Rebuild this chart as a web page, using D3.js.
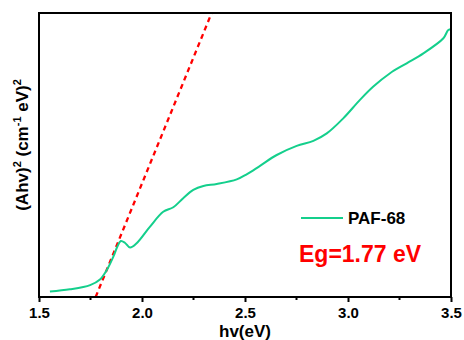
<!DOCTYPE html>
<html>
<head>
<meta charset="utf-8">
<script src="https://cdn.jsdelivr.net/npm/d3@7"></script>
<style>
  body { margin: 0; background: #fff; }
  text { font-family: "Liberation Sans", Arial, sans-serif; font-weight: bold; }
</style>
</head>
<body>
<svg id="chart" width="464" height="340"></svg>
<script>
// data (y in arbitrary units, 0..100)
var hv = [1.553, 1.650, 1.748, 1.796, 1.829, 1.861, 1.880, 1.897, 1.917, 1.942, 1.974, 2.039, 2.103,
          2.152, 2.200, 2.249, 2.298, 2.363, 2.460, 2.508, 2.573, 2.654, 2.751, 2.832, 2.897, 2.977,
          3.058, 3.123, 3.204, 3.285, 3.366, 3.463, 3.487, 3.504];
var ahv = [1.9, 2.7, 4.2, 6.2, 9.5, 14.2, 17.7, 19.7, 19.1, 17.4, 18.9, 24.8, 30.0,
           31.6, 34.8, 37.7, 39.1, 39.8, 41.4, 43.2, 46.2, 50.0, 53.2, 55.0, 57.6, 62.9,
           69.4, 74.1, 78.8, 82.3, 85.8, 91.1, 94.0, 94.3];
var fitX = [1.775, 2.338];
var fitY = [0, 100];
var xTicks = [1.5, 2.0, 2.5, 3.0, 3.5];
var xMinor = [1.75, 2.25, 2.75, 3.25];

var svg = d3.select('#chart');
var mLeft = 39, mRight = 451, mTop = 13, mBottom = 297;

var x = d3.scaleLinear().domain([1.5, 3.5]).range([mLeft, mRight]);
var y = d3.scaleLinear().domain([0, 100]).range([mBottom, mTop]);

svg.append('defs').append('clipPath').attr('id', 'clip')
    .append('rect').attr('x', mLeft).attr('y', mTop)
    .attr('width', mRight - mLeft).attr('height', mBottom - mTop);

var plot = svg.append('g').attr('clip-path', 'url(#clip)');

// tangent line
plot.append('line')
    .attr('x1', x(fitX[0])).attr('y1', y(fitY[0]))
    .attr('x2', x(fitX[1])).attr('y2', y(fitY[1]))
    .attr('stroke', '#ff0000').attr('stroke-width', 2.3)
    .attr('stroke-dasharray', '5,4');

// spectrum
var line = d3.line()
    .x(function(d, i) { return x(hv[i]); })
    .y(function(d) { return y(d); })
    .curve(d3.curveCatmullRom);

plot.append('path')
    .datum(ahv)
    .attr('d', line)
    .attr('fill', 'none')
    .attr('stroke', '#14cf8c')
    .attr('stroke-width', 2);

// frame
svg.append('rect')
    .attr('x', mLeft).attr('y', mTop).attr('width', mRight - mLeft).attr('height', mBottom - mTop)
    .attr('fill', 'none').attr('stroke', '#000').attr('stroke-width', 2);

// bottom axis
var xAxis = d3.axisBottom(x).tickValues(xTicks).tickFormat(d3.format('.1f')).tickSize(5).tickSizeOuter(0);
var gx = svg.append('g').attr('transform', 'translate(0,' + mBottom + ')').call(xAxis);
gx.select('.domain').remove();
gx.selectAll('.tick line').attr('stroke-width', 2);
gx.selectAll('.tick text').attr('font-size', 15).attr('fill', '#000').attr('y', 21).attr('dy', 0)
    .style('font-family', '"Liberation Sans", Arial, sans-serif').style('font-weight', 'bold');

svg.append('g').selectAll('line').data(xMinor).enter().append('line')
    .attr('x1', function(d) { return x(d); }).attr('x2', function(d) { return x(d); })
    .attr('y1', mBottom).attr('y2', mBottom + 3)
    .attr('stroke', '#000').attr('stroke-width', 2);

// axis titles
svg.append('text').attr('x', (mLeft + mRight) / 2).attr('y', 337)
    .attr('text-anchor', 'middle').attr('font-size', 17).text('hv(eV)');

var yl = svg.append('text')
    .attr('transform', 'translate(28,145) rotate(-90)')
    .attr('text-anchor', 'middle').attr('font-size', 17);
yl.append('tspan').text('(Ahv)');
yl.append('tspan').attr('font-size', 11).attr('dy', -7).text('2');
yl.append('tspan').attr('dy', 7).text(' (cm');
yl.append('tspan').attr('font-size', 11).attr('dy', -7).text('-1');
yl.append('tspan').attr('dy', 7).text(' eV)');
yl.append('tspan').attr('font-size', 11).attr('dy', -7).text('2');

// legend
svg.append('line').attr('x1', 301).attr('x2', 343).attr('y1', 218).attr('y2', 218)
    .attr('stroke', '#14cf8c').attr('stroke-width', 2);
svg.append('text').attr('x', 348).attr('y', 224).attr('font-size', 17).text('PAF-68');

svg.append('text').attr('x', 299).attr('y', 262).attr('font-size', 23)
    .attr('fill', '#ff0000').text('Eg=1.77 eV');
</script>
</body>
</html>
